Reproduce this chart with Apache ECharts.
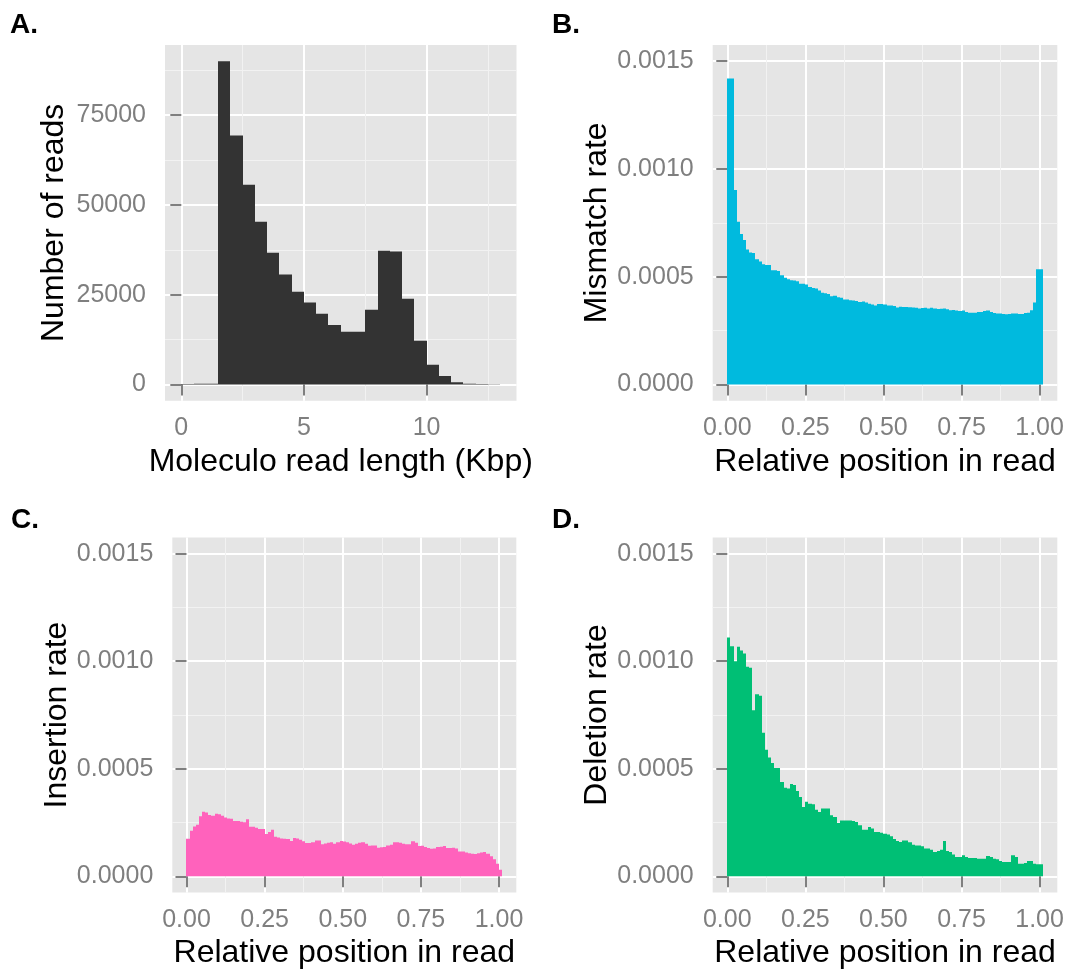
<!DOCTYPE html>
<html>
<head>
<meta charset="utf-8">
<script src="https://cdn.jsdelivr.net/npm/echarts@6/dist/echarts.min.js"></script>
<style>
html,body{margin:0;padding:0;background:#ffffff;}
#chart{width:1069px;height:972px;}
</style>
</head>
<body>
<div id="chart"></div>
<script>
// ---------- Panel A: read length histogram ----------
const lengthBinStarts = [0,0.5,1,1.5,2,2.5,3,3.5,4,4.5,5,5.5,6,6.5,7,7.5,8,8.5,9,9.5,10,10.5,11,11.5,12,12.5];
const lengthBinWidth = 0.5;
const readCounts = [150,200,250,90000,69300,55600,45300,36700,30600,25800,22800,19700,16600,14700,14700,20800,37200,37000,23900,12200,5500,2400,650,250,120,60];
const lengthTicks = [0,5,10];
const lengthMinorTicks = [2.5,7.5,12.5];
const countTicks = [0,25000,50000,75000];
const countMinorTicks = [12500,37500,62500,87500];

// ---------- Panels B-D: error rates by relative position ----------
const positionBinStarts = [0.00,0.01,0.02,0.03,0.04,0.05,0.06,0.07,0.08,0.09,
  0.10,0.11,0.12,0.13,0.14,0.15,0.16,0.17,0.18,0.19,
  0.20,0.21,0.22,0.23,0.24,0.25,0.26,0.27,0.28,0.29,
  0.30,0.31,0.32,0.33,0.34,0.35,0.36,0.37,0.38,0.39,
  0.40,0.41,0.42,0.43,0.44,0.45,0.46,0.47,0.48,0.49,
  0.50,0.51,0.52,0.53,0.54,0.55,0.56,0.57,0.58,0.59,
  0.60,0.61,0.62,0.63,0.64,0.65,0.66,0.67,0.68,0.69,
  0.70,0.71,0.72,0.73,0.74,0.75,0.76,0.77,0.78,0.79,
  0.80,0.81,0.82,0.83,0.84,0.85,0.86,0.87,0.88,0.89,
  0.90,0.91,0.92,0.93,0.94,0.95,0.96,0.97,0.98,0.99,1.00];
const positionBinWidth = 0.01;

const mismatchRate = [0.001420,0.001420,0.000902,0.000755,0.000698,0.000670,0.000626,0.000612,0.000610,0.000581,
  0.000571,0.000558,0.000555,0.000555,0.000530,0.000530,0.000527,0.000507,0.000495,0.000488,
  0.000484,0.000483,0.000479,0.000467,0.000467,0.000464,0.000453,0.000448,0.000445,0.000436,
  0.000426,0.000423,0.000420,0.000409,0.000412,0.000405,0.000402,0.000395,0.000395,0.000391,
  0.000390,0.000388,0.000383,0.000385,0.000380,0.000375,0.000371,0.000367,0.000373,0.000374,
  0.000371,0.000367,0.000367,0.000364,0.000357,0.000361,0.000360,0.000360,0.000359,0.000357,
  0.000356,0.000353,0.000355,0.000356,0.000353,0.000356,0.000353,0.000350,0.000352,0.000353,
  0.000349,0.000344,0.000346,0.000343,0.000341,0.000343,0.000336,0.000333,0.000333,0.000333,
  0.000336,0.000336,0.000341,0.000343,0.000336,0.000332,0.000330,0.000330,0.000327,0.000326,
  0.000327,0.000329,0.000329,0.000327,0.000327,0.000332,0.000333,0.000345,0.000380,0.000535,0.000535];

const insertionRate = [0.000175,0.000212,0.000232,0.000240,0.000279,0.000300,0.000297,0.000285,0.000282,0.000291,
  0.000289,0.000282,0.000274,0.000269,0.000268,0.000257,0.000257,0.000254,0.000251,0.000266,
  0.000231,0.000231,0.000226,0.000220,0.000220,0.000197,0.000206,0.000217,0.000184,0.000181,
  0.000176,0.000175,0.000174,0.000164,0.000178,0.000176,0.000170,0.000163,0.000155,0.000155,
  0.000158,0.000167,0.000167,0.000149,0.000153,0.000156,0.000159,0.000152,0.000159,0.000164,
  0.000162,0.000159,0.000153,0.000147,0.000152,0.000156,0.000159,0.000152,0.000142,0.000144,
  0.000144,0.000133,0.000135,0.000136,0.000144,0.000147,0.000159,0.000159,0.000156,0.000152,
  0.000149,0.000149,0.000163,0.000156,0.000141,0.000142,0.000136,0.000132,0.000128,0.000130,
  0.000136,0.000138,0.000141,0.000132,0.000132,0.000133,0.000130,0.000116,0.000115,0.000111,
  0.000107,0.000105,0.000104,0.000107,0.000111,0.000113,0.000105,0.000093,0.000080,0.000059,0.000031];

const deletionRate = [0.001110,0.001070,0.001000,0.001067,0.001050,0.001036,0.000974,0.000970,0.000772,0.000847,
  0.000840,0.000668,0.000589,0.000552,0.000527,0.000504,0.000504,0.000439,0.000412,0.000408,
  0.000429,0.000425,0.000397,0.000369,0.000322,0.000347,0.000338,0.000335,0.000310,0.000299,
  0.000316,0.000316,0.000316,0.000284,0.000276,0.000248,0.000260,0.000260,0.000260,0.000260,
  0.000257,0.000253,0.000237,0.000217,0.000217,0.000229,0.000223,0.000206,0.000206,0.000203,
  0.000198,0.000194,0.000186,0.000174,0.000164,0.000160,0.000167,0.000167,0.000158,0.000147,
  0.000144,0.000144,0.000140,0.000129,0.000129,0.000124,0.000113,0.000118,0.000124,0.000164,
  0.000118,0.000113,0.000102,0.000090,0.000090,0.000098,0.000090,0.000085,0.000085,0.000085,
  0.000082,0.000082,0.000082,0.000095,0.000090,0.000082,0.000079,0.000071,0.000067,0.000067,
  0.000067,0.000098,0.000090,0.000059,0.000059,0.000062,0.000071,0.000071,0.000059,0.000056,0.000056];

const positionTicks = [0,0.25,0.5,0.75,1];
const positionMinorTicks = [0.125,0.375,0.625,0.875];
const rateTicks = [0,0.0005,0.001,0.0015];
const rateMinorTicks = [0.00025,0.00075,0.00125];

const panelLabels = ['A.','B.','C.','D.'];
const xTitles = ['Moleculo read length (Kbp)','Relative position in read','Relative position in read','Relative position in read'];
const yTitles = ['Number of reads','Mismatch rate','Insertion rate','Deletion rate'];

// ---------- styling / layout ----------
const FONT = "'Liberation Sans', Arial, Helvetica, sans-serif";
const TICK_GREY = '#7F7F7F';
const colors = ['#333333','#00BADE','#FF62BC','#00BF75'];
const grids = [
  {left:165,   top:45,    width:351.5, height:355.7},
  {left:712.7, top:45,    width:344.6, height:355.7},
  {left:172.3, top:537.5, width:344,   height:355},
  {left:712.7, top:537.5, width:344.6, height:355}
];
const xRanges = [[-0.665,13.665],[-0.0467,1.0567],[-0.0454,1.0554],[-0.0467,1.0567]];
const yRanges = [[-4500,94500],[-0.000075,0.001575],[-0.000075,0.001575],[-0.000075,0.001575]];
const labelPos = [{left:10,top:11},{left:552,top:11},{left:11,top:506},{left:552,top:506}];

function fmtInt(v){ return String(Math.round(v)); }
function fmt2(v){ return v.toFixed(2); }
function fmt4(v){ return v.toFixed(4); }

function majorAxis(gi, range, ticks, fmt, isX, name, nameGap){
  return {
    type:'value', gridIndex:gi, min:range[0], max:range[1],
    position: isX ? 'bottom' : 'left',
    axisLine:{show:false},
    axisTick:{show:true, length:11, inside:false, customValues:ticks,
      lineStyle:{color:TICK_GREY, width:2}},
    axisLabel:{show:true, customValues:ticks, formatter:fmt, color:TICK_GREY,
      fontSize:25, fontFamily:FONT, margin: isX ? 15 : 19},
    splitLine:{show:true, lineStyle:{color:'#FFFFFF', width:2}},
    minorTick:{show:false}, minorSplitLine:{show:false},
    name:name, nameLocation:'middle', nameGap:nameGap,
    nameTextStyle:{color:'#000000', fontSize:32, fontFamily:FONT}
  };
}
function minorAxis(gi, range, ticks, isX){
  return {
    type:'value', gridIndex:gi, min:range[0], max:range[1],
    position: isX ? 'top' : 'right',
    axisLine:{show:false},
    axisTick:{show:false, customValues:ticks},
    axisLabel:{show:false, customValues:ticks},
    splitLine:{show:true, lineStyle:{color:'#F2F2F2', width:1}}
  };
}

const xAxes = [], yAxes = [];
const xTickSets = [lengthTicks, positionTicks, positionTicks, positionTicks];
const xMinorSets = [lengthMinorTicks, positionMinorTicks, positionMinorTicks, positionMinorTicks];
const yTickSets = [countTicks, rateTicks, rateTicks, rateTicks];
const yMinorSets = [countMinorTicks, rateMinorTicks, rateMinorTicks, rateMinorTicks];
const xFmts = [fmtInt, fmt2, fmt2, fmt2];
const yFmts = [fmtInt, fmt4, fmt4, fmt4];
const yNameGaps = [95, 99, 99, 99];
for (let g = 0; g < 4; g++) {
  // minor first so the major lines are drawn over them
  xAxes.push(minorAxis(g, xRanges[g], xMinorSets[g], true));
  xAxes.push(majorAxis(g, xRanges[g], xTickSets[g], xFmts[g], true, xTitles[g], 45));
  yAxes.push(minorAxis(g, yRanges[g], yMinorSets[g], false));
  yAxes.push(majorAxis(g, yRanges[g], yTickSets[g], yFmts[g], false, yTitles[g], yNameGaps[g]));
}

function histRender(binWidth){
  return function(params, api){
    const x0 = api.value(0), v = api.value(1);
    const pTop = api.coord([x0, v]);
    const pBot = api.coord([x0 + binWidth, 0]);
    // snap horizontal edges to whole pixels so neighbouring bars join without seams
    const left = Math.round(pTop[0]);
    const right = Math.round(pBot[0]);
    return {
      type:'rect',
      shape:{x:left, y:pTop[1], width:right-left, height:pBot[1]-pTop[1]},
      style:{fill:api.visual('color')}
    };
  };
}
function pairs(xs, ys){ return xs.map((x,i)=>[x, ys[i]]); }

const seriesData = [
  [lengthBinStarts, readCounts, lengthBinWidth],
  [positionBinStarts, mismatchRate, positionBinWidth],
  [positionBinStarts, insertionRate, positionBinWidth],
  [positionBinStarts, deletionRate, positionBinWidth]
];
const series = seriesData.map((d, g) => ({
  type:'custom', name:yTitles[g],
  xAxisIndex:2*g+1, yAxisIndex:2*g+1,
  renderItem:histRender(d[2]),
  encode:{x:0, y:1},
  itemStyle:{color:colors[g]},
  clip:true, silent:true, z:3,
  data:pairs(d[0], d[1])
}));

const option = {
  animation:false,
  backgroundColor:'#FFFFFF',
  title: panelLabels.map((t,i)=>({
    text:t, left:labelPos[i].left, top:labelPos[i].top, padding:0,
    textStyle:{fontSize:28, fontWeight:'bold', color:'#000000', fontFamily:FONT}
  })),
  grid: grids.map(g=>Object.assign({show:true, backgroundColor:'#E5E5E5', borderWidth:0,
    containLabel:false, outerBoundsMode:'none'}, g)),
  xAxis:xAxes,
  yAxis:yAxes,
  series:series
};

const chart = echarts.init(document.getElementById('chart'), null, {renderer:'canvas'});
chart.setOption(option);
</script>
</body>
</html>
